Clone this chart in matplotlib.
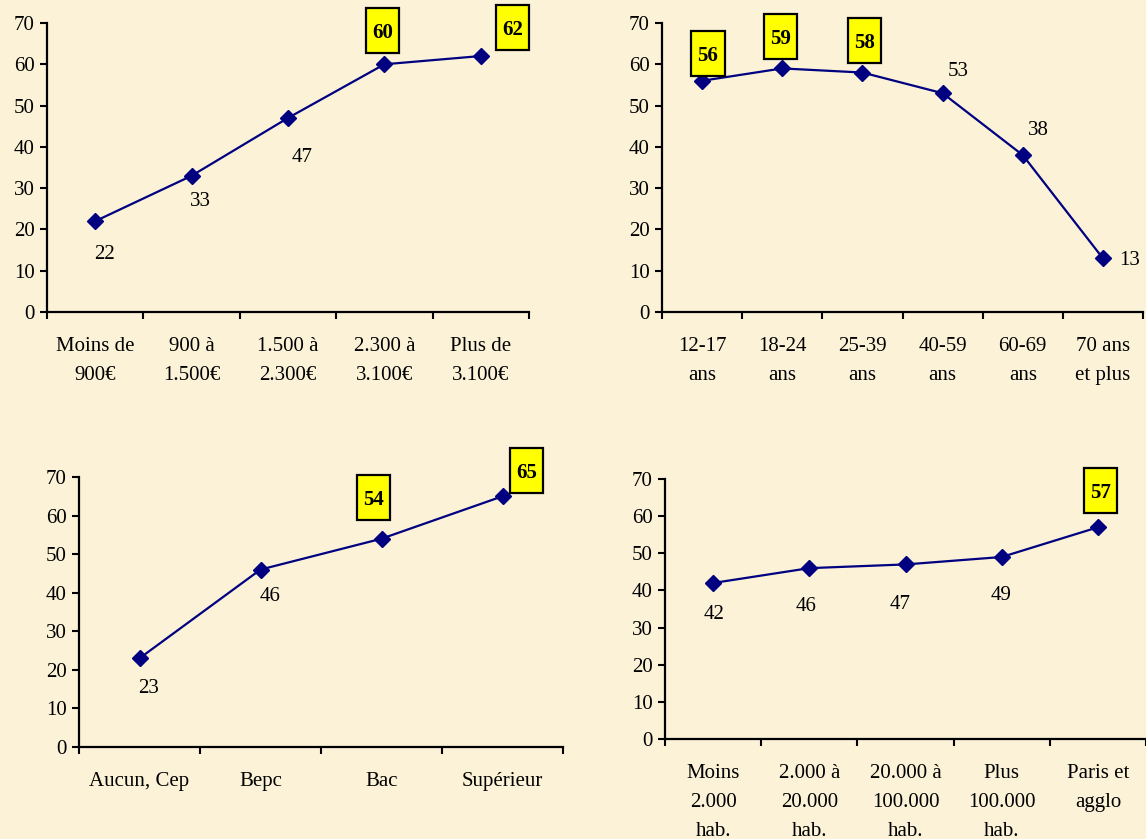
import matplotlib.pyplot as plt
from matplotlib.path import Path

plt.rcParams['font.family'] = ['Liberation Serif', 'DejaVu Serif']

# colours
bg_color = '#FBF2D8'
line_color = '#000080'

# data
revenu_labels = ['Moins de\n900€', '900 à\n1.500€', '1.500 à\n2.300€', '2.300 à\n3.100€', 'Plus de\n3.100€']
revenu_values = [22, 33, 47, 60, 62]
revenu_boxed = [False, False, False, True, True]

age_labels = ['12-17\nans', '18-24\nans', '25-39\nans', '40-59\nans', '60-69\nans', '70 ans\net plus']
age_values = [56, 59, 58, 53, 38, 13]
age_boxed = [True, True, True, False, False, False]

diplome_labels = ['Aucun, Cep', 'Bepc', 'Bac', 'Supérieur']
diplome_values = [23, 46, 54, 65]
diplome_boxed = [False, False, True, True]

agglo_labels = ['Moins\n2.000\nhab.', '2.000 à\n20.000\nhab.', '20.000 à\n100.000\nhab.',
                'Plus\n100.000\nhab.', 'Paris et\nagglo']
agglo_values = [42, 46, 47, 49, 57]
agglo_boxed = [False, False, False, False, True]

# label offsets from the points (in points)
revenu_offsets = [(7, -22), (6.5, -17), (10, -27), (-1.5, 24.5), (23, 20.5)]
age_offsets = [(4.3, 20), (-1.4, 23), (1.4, 23.4), (11.5, 17.3), (11.5, 19.5), (19.5, 0)]
diplome_offsets = [(6.5, -20), (7, -17.3), (-5.8, 30), (17.3, 18.4)]
agglo_offsets = [(0.7, -21), (-2, -26), (-3.6, -27.4), (-0.7, -26), (2, 26.3)]

W, H = 1146, 839
FS = 15
fig = plt.figure(figsize=(W / 100, H / 100), dpi=100, facecolor=bg_color)


def tall_box(x0, y0, width, height, mutation_size):
    # yellow label box: taller than wide, centred on the digits
    px = 0.3 * mutation_size
    py = 0.6 * mutation_size
    d = 0.11 * mutation_size
    xl, xh = x0 - px, x0 + width + px
    yl, yh = y0 - (py - d), y0 + height + py + d
    return Path([(xl, yl), (xh, yl), (xh, yh), (xl, yh), (xl, yl)], closed=True)


def draw_panel(px_rect, labels, values, boxed, offsets):
    l, t, w, h = px_rect
    ax = fig.add_axes([l / W, 1 - (t + h) / H, w / W, h / H])
    ax.patch.set_visible(False)
    x = list(range(len(values)))
    ax.plot(x, values, color=line_color, lw=1.6, marker='D', ms=8, zorder=3, clip_on=False)
    ax.set_xlim(-0.5, len(values) - 0.5)
    ax.set_ylim(0, 70)
    ax.set_yticks(range(0, 71, 10))
    ax.set_xticks([i - 0.5 for i in range(len(values) + 1)])
    ax.set_xticklabels([])
    ax.set_xticks(x, labels, minor=True)
    ax.tick_params(axis='both', which='major', direction='out', length=5, width=1.5,
                   labelsize=FS, pad=4)
    ax.tick_params(axis='x', which='minor', length=0, pad=18, labelsize=FS)
    for lab in ax.get_xticklabels(minor=True):
        lab.set_linespacing(1.72)
    for s in ['top', 'right']:
        ax.spines[s].set_visible(False)
    for s in ['left', 'bottom']:
        ax.spines[s].set_linewidth(1.6)

    for xi, v, b, off in zip(x, values, boxed, offsets):
        if b:
            ax.annotate(str(v), (xi, v), xytext=off, textcoords='offset points',
                        ha='center', va='center_baseline', fontsize=FS, fontweight='bold',
                        bbox=dict(boxstyle=tall_box, fc='#FFFF00', ec='black', lw=1.6))
        else:
            ax.annotate(str(v), (xi, v), xytext=off, textcoords='offset points',
                        ha='center', va='center_baseline', fontsize=FS)
    return ax


draw_panel((47, 23, 482, 289), revenu_labels, revenu_values, revenu_boxed, revenu_offsets)
draw_panel((662, 23, 481, 289), age_labels, age_values, age_boxed, age_offsets)
draw_panel((79, 477, 484, 270), diplome_labels, diplome_values, diplome_boxed, diplome_offsets)
draw_panel((665, 479, 481, 260), agglo_labels, agglo_values, agglo_boxed, agglo_offsets)

plt.savefig('out.png', dpi=100, facecolor=bg_color)
